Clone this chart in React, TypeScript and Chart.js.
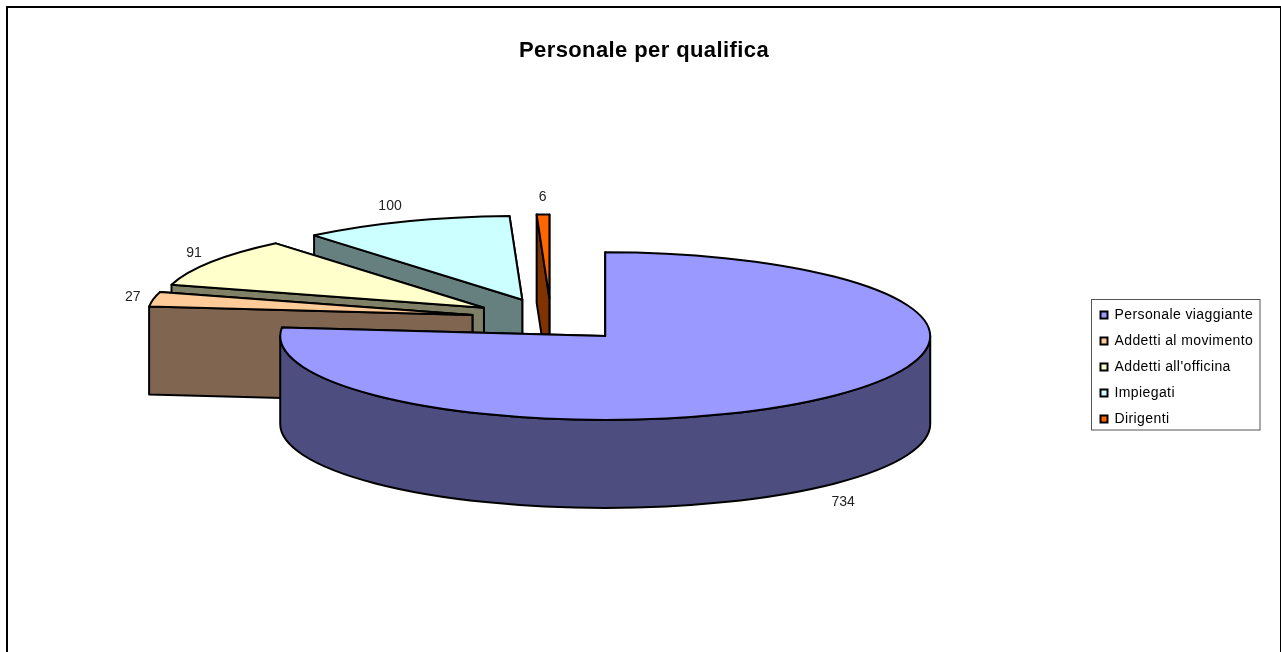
import React, { useEffect, useRef } from "react";
import { Chart, registerables } from "chart.js";

Chart.register(...registerables);

const categories = ["Personale viaggiante", "Addetti al movimento", "Addetti all'officina", "Impiegati", "Dirigenti"];
const values = [734, 27, 91, 100, 6];
const topColors = ["#9999FF", "#FFCC99", "#FFFFCC", "#CCFFFF", "#FF6600"];
const sideColors = ["#4D4D80", "#806650", "#808066", "#668080", "#803300"];
const titleText = "Personale per qualifica";

const TILT = 0.258;
const DEPTH = 88;
const EXPLODE = 80;
const FONT = '"Liberation Sans", Arial, sans-serif';

// exploded centre of a slice; the largest slice sits a touch lower in the perspective view
const sliceCentre = (a: any, i: number) => {
  const mid = (a.startAngle + a.endAngle) / 2;
  return {
    cx: a.x + Math.cos(mid) * EXPLODE + (i === 0 ? 0.6 : 0),
    cy: a.y + Math.sin(mid) * EXPLODE * TILT + (i === 0 ? 1.8 : 0),
    mid,
  };
};

const pie3d = {
  id: "pie3d",
  beforeDraw(chart: any) {
    const ctx = chart.ctx;
    ctx.letterSpacing = "0.4px";
    const l = chart.legend;
    l.left = 1100.5 - 12;
    l.top = 296;
    l.right = 1281;
    l.bottom = 652;
    const t = chart.titleBlock;
    t.left = 0;
    t.right = 1288;
    // legend frame
    ctx.save();
    ctx.strokeStyle = "#555";
    ctx.lineWidth = 1;
    ctx.strokeRect(1091.5, 299.5, 168.5, 130.5);
    ctx.restore();
  },
  beforeDatasetDraw(chart: any) {
    const ctx = chart.ctx;
    const arcs = chart.getDatasetMeta(0).data;
    ctx.save();
    ctx.lineWidth = 2;
    ctx.lineJoin = "round";
    ctx.strokeStyle = "#000";
    const finish = (fill: string) => {
      ctx.fillStyle = fill;
      ctx.fill();
      ctx.stroke();
    };
    for (let i = arcs.length - 1; i >= 0; i--) {
      const a = arcs[i];
      const R = a.outerRadius;
      const { cx, cy } = sliceCentre(a, i);
      // cut faces: the far one first, so the near one hides it
      for (const ang of [a.endAngle, a.startAngle]) {
        const ox = cx + Math.cos(ang) * R;
        const oy = cy + Math.sin(ang) * R * TILT;
        ctx.beginPath();
        ctx.moveTo(cx, cy);
        ctx.lineTo(ox, oy);
        ctx.lineTo(ox, oy + DEPTH);
        ctx.lineTo(cx, cy + DEPTH);
        ctx.closePath();
        finish(sideColors[i]);
      }
      // outer wall, front half only
      const s = Math.max(a.startAngle, 0);
      const e = Math.min(a.endAngle, Math.PI);
      if (e > s) {
        ctx.beginPath();
        ctx.ellipse(cx, cy, R, R * TILT, 0, s, e, false);
        ctx.ellipse(cx, cy + DEPTH, R, R * TILT, 0, e, s, true);
        ctx.closePath();
        finish(sideColors[i]);
      }
      // top face
      ctx.beginPath();
      ctx.moveTo(cx, cy);
      ctx.ellipse(cx, cy, R, R * TILT, 0, a.startAngle, a.endAngle, false);
      ctx.closePath();
      finish(topColors[i]);
    }
    // value labels
    ctx.fillStyle = "#222";
    ctx.font = `14px ${FONT}`;
    ctx.textAlign = "center";
    ctx.textBaseline = "middle";
    ctx.letterSpacing = "0px";
    const nudgeX = [6, 0, 0, -8, 0];
    const nudgeY = [2, 1, 1, 1.5, 1];
    arcs.forEach((a: any, i: number) => {
      const { cx, cy, mid } = sliceCentre(a, i);
      const sinM = Math.sin(mid);
      const lx = cx + Math.cos(mid) * 346;
      const ly = cy + sinM * 102 + (sinM > 0 ? DEPTH : 0);
      ctx.fillText(String(values[i]), lx + nudgeX[i], ly + nudgeY[i]);
    });
    ctx.restore();
    ctx.letterSpacing = "0.4px";
    return false;
  },
};

export default function App() {
  const ref = useRef<HTMLCanvasElement>(null);
  useEffect(() => {
    const chart = new Chart(ref.current!, {
      type: "pie",
      data: {
        labels: categories,
        datasets: [
          {
            data: values,
            backgroundColor: topColors,
            borderColor: "#000",
            borderWidth: 2,
            radius: 325,
          } as any,
        ],
      },
      options: {
        animation: false,
        responsive: false,
        layout: { padding: { left: 0, right: 179, top: 0, bottom: 78.4 } },
        plugins: {
          title: {
            display: true,
            text: titleText,
            color: "#000",
            font: { family: FONT, size: 22, weight: "bold" },
            padding: { top: 38, bottom: 0 },
          },
          legend: {
            display: true,
            position: "chartArea",
            align: "start",
            labels: {
              boxWidth: 7,
              boxHeight: 7,
              padding: 12,
              color: "#000",
              font: { family: FONT, size: 14 },
            },
          },
          tooltip: { enabled: false },
        },
      },
      plugins: [pie3d],
    } as any);
    return () => chart.destroy();
  }, []);
  return (
    <div style={{ position: "fixed", left: 0, top: 0, width: 1281, height: 652, overflow: "hidden", background: "#fff" }}>
      <div
        style={{
          position: "absolute",
          left: 6,
          top: 6,
          width: 1275,
          height: 700,
          boxSizing: "border-box",
          borderLeft: "2px solid #000",
          borderTop: "2px solid #000",
          borderRight: "1px solid #000",
        }}
      />
      <canvas ref={ref} width={1281} height={652} style={{ position: "absolute", left: 0, top: 0, display: "block" }} />
    </div>
  );
}
